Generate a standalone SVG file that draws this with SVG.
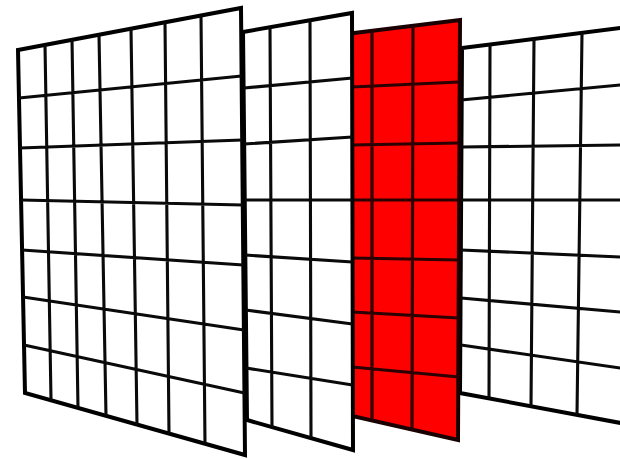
<svg xmlns="http://www.w3.org/2000/svg" width="620" height="459" viewBox="0 0 620 459">
<style>
.bg{fill:#ffffff}
.panel{fill:#ffffff;stroke:#000;stroke-width:4;stroke-linejoin:miter}
.red{fill:#ff0000;stroke:#1a0000;stroke-width:4}
.grid{fill:none;stroke:#0a0a0a;stroke-width:3.1;stroke-linecap:butt}
.gridr{fill:none;stroke:#2a0000;stroke-width:3.2}
</style>
<rect class="bg" x="0" y="0" width="620" height="459"/>

<g id="panel4">
<polygon class="panel" points="462,48 640,25.5 640,426.6 460,393"/>
<path class="grid" d="M490,44.5 L489,398.4 M534,38.9 L531,406.3 M582,32.8 L577,414.9
M461,100 L625,84.5 M461,147 L625,145 M461,200 L625,200 M461,250 L625,257.2 M461,298 L625,312.5 M461,345 L625,368.7"/>
</g>

<g id="panel3">
<polygon class="red" points="350,33.6 460,20 458,440 352,416"/>
<path class="gridr" d="M372,30.9 L372,420.4 M413,25.8 L412,429.5
M352,87 L459,82 M352,145 L459,143 M352,200 L459,200 M352,258 L459,260 M352,312 L459,318 M352,367 L459,377"/>
</g>

<g id="panel2">
<polygon class="panel" points="243,32 352,13 353,450 247,420"/>
<path class="grid" d="M270,27.3 L272,427 M310,20.3 L311,438
M244,88 L352.5,78 M244,144 L352.5,137 M244.5,200 L352.5,200 M245,255 L352.5,262 M245.5,310 L352.5,324 M246,368 L352.5,385"/>
</g>

<g id="panel1">
<polygon class="panel" points="18,50 241,8 245,455 25,393"/>
<path class="grid" d="M45,44.9 L51,400.3 M72,39.8 L78,407.9 M99,34.7 L106,415.8 M131,28.7 L137,424.6 M165,22.3 L169,433.6 M201,15.5 L205,443.7
M19,98 L241.6,76 M20,148 L242.2,140 M21.1,200 L242.8,205 M22.1,250 L243.3,265 M23,297 L243.9,330 M24,345 L244.4,393"/>
</g>
</svg>
